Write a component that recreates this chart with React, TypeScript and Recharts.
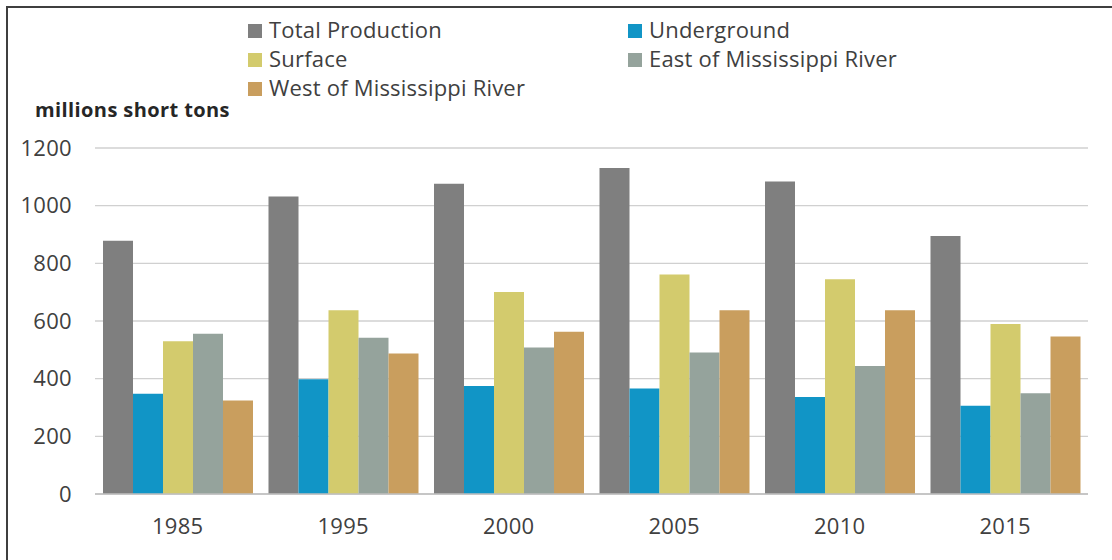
import React from 'react';
import { BarChart, Bar, XAxis, YAxis, CartesianGrid } from 'recharts';

const years = ['1985', '1995', '2000', '2005', '2010', '2015'];
const totalProduction = [878, 1032, 1076, 1131, 1084, 895];
const underground = [348, 398, 375, 366, 336, 306];
const surface = [530, 637, 701, 761, 745, 590];
const eastOfMississippi = [556, 542, 508, 491, 444, 349];
const westOfMississippi = [324, 487, 563, 637, 637, 546];
const yTicks = [0, 200, 400, 600, 800, 1000, 1200];

const series = [
  { key: 'total', name: 'Total Production', color: '#7f7f7f' },
  { key: 'underground', name: 'Underground', color: '#1195c6' },
  { key: 'surface', name: 'Surface', color: '#d3cb6d' },
  { key: 'east', name: 'East of Mississippi River', color: '#95a39c' },
  { key: 'west', name: 'West of Mississippi River', color: '#c99e5e' },
];

const data = years.map((year, i) => ({
  year,
  total: totalProduction[i],
  underground: underground[i],
  surface: surface[i],
  east: eastOfMississippi[i],
  west: westOfMississippi[i],
}));

const FONT = '"Open Sans", "Noto Sans", sans-serif';
const TEXT = '#404040';
const tickStyle = { fontFamily: FONT, fontSize: 22, fill: TEXT, letterSpacing: 0.3 };

// legend is laid out in two columns, filled row by row
const legendPos = [
  { left: 248, top: 15 },
  { left: 628, top: 15 },
  { left: 248, top: 44 },
  { left: 628, top: 44 },
  { left: 248, top: 73 },
];

const Legend2Col = () => (
  <>
    {series.map((s, i) => (
      <div
        key={s.key}
        style={{
          position: 'absolute',
          left: legendPos[i].left,
          top: legendPos[i].top,
          fontFamily: FONT,
          fontSize: 22,
          letterSpacing: 0.2,
          lineHeight: '29px',
          color: TEXT,
          whiteSpace: 'nowrap',
        }}
      >
        <span
          style={{
            display: 'inline-block',
            width: 14,
            height: 14,
            background: s.color,
            marginRight: 7,
            verticalAlign: 'baseline',
          }}
        />
        {s.name}
      </div>
    ))}
  </>
);

export default function App() {
  return (
    <div
      style={{
        position: 'fixed',
        left: 0,
        top: 0,
        width: 1112,
        height: 560,
        background: '#fff',
        overflow: 'hidden',
      }}
    >
      {/* frame: only the top and left edges fall inside the view */}
      <div
        style={{
          position: 'absolute',
          left: 6,
          top: 6,
          width: 1200,
          height: 700,
          borderTop: '2px solid #3f3f3f',
          borderLeft: '2px solid #3f3f3f',
        }}
      />
      <Legend2Col />
      <div
        style={{
          position: 'absolute',
          left: 35,
          top: 100,
          fontFamily: FONT,
          fontSize: 20,
          fontWeight: 700,
          letterSpacing: 0.4,
          lineHeight: '20px',
          color: '#262626',
          whiteSpace: 'nowrap',
        }}
      >
        millions short tons
      </div>
      <div style={{ position: 'absolute', left: 0, top: 0 }}>
        <BarChart
          width={1112}
          height={560}
          data={data}
          margin={{ top: 148, right: 24, bottom: 0, left: 0 }}
          barGap={0}
          barCategoryGap={8}
        >
          <CartesianGrid vertical={false} stroke="#d0d0d0" strokeWidth={1.3} />
          <XAxis
            dataKey="year"
            height={66}
            tickLine={false}
            tickSize={0}
            tickMargin={24}
            axisLine={{ stroke: '#bfbfbf', strokeWidth: 1.5 }}
            tick={tickStyle}
          />
          <YAxis
            width={95}
            domain={[0, 1200]}
            ticks={yTicks}
            interval={0}
            axisLine={false}
            tickLine={false}
            tickSize={0}
            tickMargin={23}
            tick={tickStyle}
          />
          {series.map((s) => (
            <Bar key={s.key} dataKey={s.key} name={s.name} fill={s.color} isAnimationActive={false} />
          ))}
        </BarChart>
      </div>
    </div>
  );
}
